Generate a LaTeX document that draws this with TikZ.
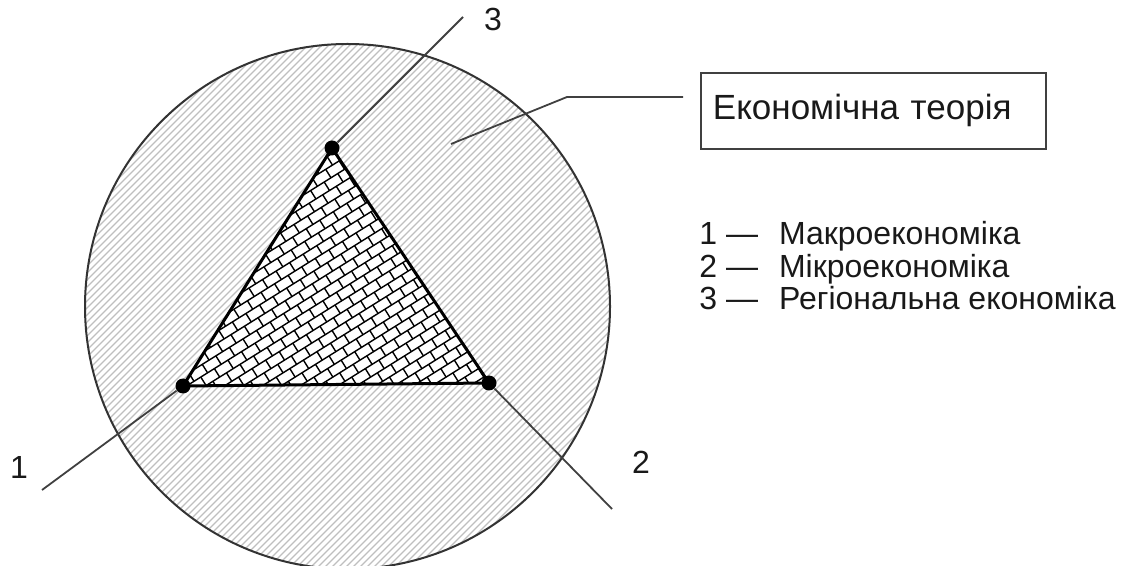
\documentclass[tikz,border=0pt]{standalone}
\usepackage{fontspec}
\setmainfont{Liberation Sans}
\begin{document}
\begin{tikzpicture}[x=0.5pt,y=-0.5pt,
  lbl/.style={font=\fontsize{16}{16}\selectfont, text=black!90, inner sep=0pt},
  vdot/.style={circle,fill=black,inner sep=0pt,minimum size=7.5pt},
  leader/.style={draw=black!75,line width=0.9pt},
  hatch/.style={draw=black!25,line width=0.55pt},
  brick/.style={draw=black,line width=0.7pt},
  outline/.style={draw=black!80,line width=1pt}]
\useasboundingbox (0,0) rectangle (1145,566);
\coordinate (C) at (347.5,306.5);
% hatched circle
\begin{scope}
  \clip (C) circle (131.25pt);
  \fill[white] (C) circle (131.25pt);
  \foreach \k in {276,283,...,1036} \draw[hatch] (\k-700,700) -- (\k+700,-700);
\end{scope}
\draw[outline] (C) circle (131.25pt);
% triangle with bricks
\coordinate (p3) at (332,148);
\coordinate (p1) at (183,386);
\coordinate (p2) at (489,383);
\begin{scope}
  \clip (p1) -- (p2) -- (p3) -- cycle;
  \fill[white] (p1) -- (p2) -- (p3) -- cycle;
  \begin{scope}[shift={(335,305)}, rotate=32]
    \foreach \j in {-20,...,20} {
      \draw[brick] (-230,\j*10) -- (230,\j*10);
      \foreach \i in {-15,...,15}
        \draw[brick] ({\i*16+mod(\j,2)*8},\j*10) -- ({\i*16+mod(\j,2)*8},\j*10+10);
    }
  \end{scope}
\end{scope}
\draw[line width=1.5pt,line join=round] (p1) -- (p2) -- (p3) -- cycle;
% vertices
\node[vdot] (v3) at (p3) {};
\node[vdot] (v1) at (p1) {};
\node[vdot] (v2) at (p2) {};
% connectors
\coordinate (e3) at (463,17);
\coordinate (e1) at (42,490);
\coordinate (e2) at (612,509);
\draw[leader] (v3) -- (e3);
\draw[leader] (v1) -- (e1);
\draw[leader] (v2) -- (e2);
\node[lbl] (n3) at (493,19) {3};
\node[lbl] (n1) at (19,467) {1};
\node[lbl] (n2) at (641,462) {2};
% box and leader
\node[lbl, font=\fontsize{17.5}{17.5}\selectfont, draw=black!75, line width=0.9pt, anchor=north west,
      text width=160.5pt, align=left, inner xsep=6pt, inner ysep=0pt,
      minimum height=38pt] (box) at (700,72) {Економічна теорія};
\coordinate (l0) at (451,144);
\coordinate (l1) at (567,97);
\coordinate (l2) at (683,97);
\draw[leader] (l0) -- (l1) -- (l2);
% legend
\node[lbl, anchor=base west] (g1) at (699,245) {1 —\hspace{10.5pt}Макроекономіка};
\node[lbl, anchor=base west] (g2) at (699,278) {2 —\hspace{10.5pt}Мікроекономіка};
\node[lbl, anchor=base west] (g3) at (699,310) {3 —\hspace{10.5pt}Регіональна економіка};
\end{tikzpicture}
\end{document}
